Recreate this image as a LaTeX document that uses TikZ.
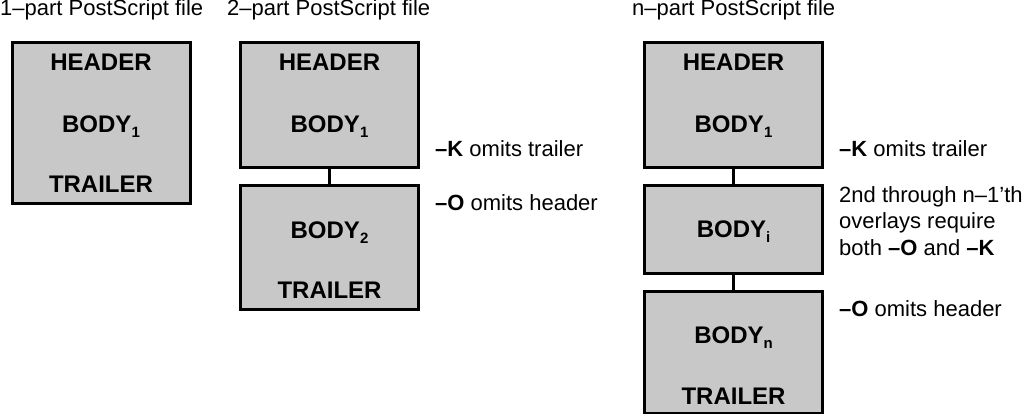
\documentclass[tikz,border=0pt]{standalone}
\usepackage{fontspec}
\setmainfont{Liberation Sans}
\usetikzlibrary{positioning}
\definecolor{boxgray}{RGB}{200,200,200}
\newcommand{\partsub}[1]{\raisebox{-5pt}{\fontsize{15}{17}\selectfont #1}}

\begin{document}
\begin{tikzpicture}[x=1pt,y=-1pt,
	part/.style={draw,fill=boxgray,line width=3pt,inner sep=0pt,minimum width=178pt},
	sect/.style={anchor=base,inner sep=0pt,font=\fontsize{24}{28}\selectfont\bfseries},
	note/.style={anchor=base west,inner sep=0pt,align=left,font=\fontsize{22}{26.5}\selectfont},
	link/.style={line width=3pt}]
	\useasboundingbox (0,0) rectangle (1024,414);
	% titles
 	\node[note] (t1) at (0,16) {1--part PostScript file};
 	\node[note] (t2) at (227,16) {2--part PostScript file};
 	\node[note] (tn) at (632,16) {n--part PostScript file};
	% 1-part
	\node[part,minimum height=160pt] (one) at (101,123) {};
	\node[sect] (oneh) at (101,71) {HEADER};
	\node[sect] (oneb) at (101,133) {BODY\partsub{1}};
	\node[sect] (onet) at (101,193) {TRAILER};
	% 2-part
	\node[part,minimum height=125pt] (two1) at (329.5,105.5) {};
	\node[part,minimum height=124pt] (two2) at (329.5,247) {};
	\node[sect] (twoh) at (329.5,71) {HEADER};
	\node[sect] (twob1) at (329.5,133) {BODY\partsub{1}};
	\node[sect] (twob2) at (329.5,238) {BODY\partsub{2}};
	\node[sect] (twot) at (329.5,298) {TRAILER};
	\path (two1) edge[link] (two2);
	\node[note] (twok) at (435,157) {\textbf{--K} omits trailer};
	\node[note] (twoo) at (435,210) {\textbf{--O} omits header};
	% n-part
	\node[part,minimum height=125pt] (n1) at (733.5,105.5) {};
	\node[part,minimum height=88pt] (ni) at (733.5,229) {};
	\node[part,minimum height=122pt] (nn) at (733.5,352) {};
	\node[sect] (nh) at (733.5,71) {HEADER};
	\node[sect] (nb1) at (733.5,133) {BODY\partsub{1}};
	\node[sect] (nbi) at (733.5,237) {BODY\partsub{i}};
	\node[sect] (nbn) at (733.5,343) {BODY\partsub{n}};
	\node[sect] (nt) at (733.5,404) {TRAILER};
	\path (n1) edge[link] (ni);
	\path (ni) edge[link] (nn);
	\node[note] (nk) at (839,157) {\textbf{--K} omits trailer};
	\node[note] (nmid) at (839,255) {2nd through n--1'th\\overlays require\\both \textbf{--O} and \textbf{--K}};
	\node[note] (no) at (839,316) {\textbf{--O} omits header};
\end{tikzpicture}
\end{document}
